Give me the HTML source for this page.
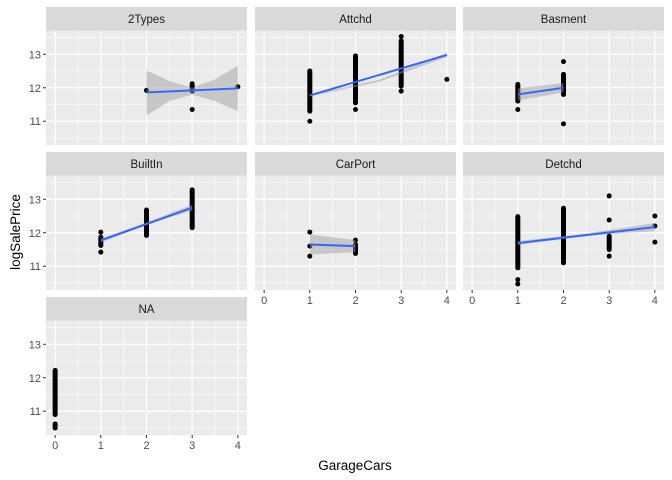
<!DOCTYPE html>
<html><head><meta charset="utf-8">
<style>
body{margin:0;background:#fff;}
svg{display:block;font-family:"Liberation Sans",Arial,sans-serif;}
</style></head>
<body>
<svg id="chart" width="672" height="480" xmlns="http://www.w3.org/2000/svg"></svg>
<script>
// ---- data ----
const facetNames = ["2Types","Attchd","Basment","BuiltIn","CarPort","Detchd","NA"];
const xTicks = [0,1,2,3,4];
const yTicks = [11,12,13];
// vertical runs of overlapping points: [facetIndex, x, yMin, yMax]
const pointRuns = [
 [0,3,11.9,12.12],
 [1,1,11.3,12.5],[1,2,11.55,12.95],[1,3,12.05,13.4],
 [2,1,11.6,12.1],[2,2,11.8,12.4],
 [3,1,11.62,11.87],[3,2,11.92,12.68],[3,3,12.15,13.28],
 [4,2,11.38,11.65],
 [5,1,10.95,12.48],[5,2,11.1,12.73],[5,3,11.5,11.9],
 [6,0,10.9,12.22],[6,0,10.5,10.62]
];
// single points: [facetIndex, x, y]
const points = [
 [0,2,11.92],[0,3,11.35],[0,4,12.03],
 [1,1,11.0],[1,2,11.35],[1,3,13.53],[1,3,11.9],[1,4,12.25],
 [2,1,11.35],[2,2,12.78],[2,2,10.92],
 [3,1,12.02],[3,1,11.42],
 [4,1,12.02],[4,1,11.6],[4,1,11.3],[4,2,11.78],
 [5,1,10.6],[5,1,10.47],[5,3,13.1],[5,3,12.38],[5,3,11.3],[5,4,12.5],[5,4,12.2],[5,4,11.72]
];
// fit lines: [facetIndex, x0, y0, x1, y1]
const fitLines = [
 [0,2,11.86,4,11.98],[1,1,11.77,4,12.98],[2,1,11.8,2,12.0],
 [3,1,11.77,3,12.75],[4,1,11.65,2,11.6],[5,1,11.69,4,12.17]
];
// ribbons
const ribbonX = [[2,2.5,3,3.5,4],[1,2.5,4],[1,2],[1,2,3],[1,2],[1,2.5,4]];
const ribbonLo = [[11.17,11.6,11.8,11.6,11.3],[11.74,12.17,12.92],[11.62,11.86],[11.71,12.25,12.66],[11.35,11.42],[11.63,11.92,12.05]];
const ribbonHi = [[12.52,12.2,12.0,12.25,12.66],[11.80,12.23,13.04],[11.98,12.14],[11.83,12.31,12.84],[11.95,11.78],[11.75,11.98,12.29]];

// ---- layout ----
const svg = document.getElementById('chart');
const NS = 'http://www.w3.org/2000/svg';
const colX = [46, 255, 463];
const panelW = 201;
const rowTop = [7, 152, 297];
const stripH = 23.5, panelH = 114.5;
const xMin=-0.2, xMax=4.2, yMin=10.29, yMax=13.71;
function mk(tag, attrs, parent){const e=document.createElementNS(NS,tag);for(const k in attrs)e.setAttribute(k,attrs[k]);(parent||svg).appendChild(e);return e;}
function px(i){return colX[i%3];}
function py(i){return rowTop[Math.floor(i/3)]+stripH;}
function sx(i,v){return px(i)+(v-xMin)/(xMax-xMin)*panelW;}
function sy(i,v){return py(i)+(yMax-v)/(yMax-yMin)*panelH;}
const bottomPanel=[false,false,false,false,true,true,true];

facetNames.forEach((name,i)=>{
  const g=mk('g',{});
  
  
  const x0=px(i), top=rowTop[Math.floor(i/3)];
  const st=mk('rect',{x:x0,y:top,width:panelW,height:stripH,fill:'#d9d9d9'},g);
  
  
  const t=mk('text',{x:x0+panelW/2,y:top+16,'text-anchor':'middle','font-size':'11.5',fill:'#1a1a1a'},g);
  t.textContent=name;
  
  
  const p0=py(i);
  const bg=mk('rect',{x:x0,y:p0,width:panelW,height:panelH,fill:'#ebebeb'},g);
  
  
  [10.5,11.5,12.5,13.5].forEach(v=>mk('line',{x1:x0,x2:x0+panelW,y1:sy(i,v),y2:sy(i,v),stroke:'#fff','stroke-width':0.6},g));
  [0.5,1.5,2.5,3.5].forEach(v=>mk('line',{x1:sx(i,v),x2:sx(i,v),y1:p0,y2:p0+panelH,stroke:'#fff','stroke-width':0.6},g));
  yTicks.forEach(v=>mk('line',{x1:x0,x2:x0+panelW,y1:sy(i,v),y2:sy(i,v),stroke:'#fff','stroke-width':1.2},g));
  xTicks.forEach(v=>mk('line',{x1:sx(i,v),x2:sx(i,v),y1:p0,y2:p0+panelH,stroke:'#fff','stroke-width':1.2},g));
  if(i%3===0){
    yTicks.forEach(v=>{
      mk('line',{x1:x0-3,x2:x0,y1:sy(i,v),y2:sy(i,v),stroke:'#333','stroke-width':1});
      const tl=mk('text',{x:x0-5,y:sy(i,v)+4,'text-anchor':'end','font-size':'11',fill:'#4d4d4d'});
      tl.textContent=v;
      
      
    });
  }
  if(bottomPanel[i]){
    xTicks.forEach(v=>{
      mk('line',{x1:sx(i,v),x2:sx(i,v),y1:p0+panelH,y2:p0+panelH+3,stroke:'#333','stroke-width':1});
      const tl=mk('text',{x:sx(i,v),y:p0+panelH+14,'text-anchor':'middle','font-size':'11',fill:'#4d4d4d'});
      tl.textContent=v;
      
      
    });
  }
});
pointRuns.forEach(r=>{
  const i=r[0];
  const l=mk('line',{x1:sx(i,r[1]),x2:sx(i,r[1]),y1:sy(i,r[2]),y2:sy(i,r[3]),stroke:'#000','stroke-width':5,'stroke-linecap':'round'});
  
  
});
points.forEach(p=>{
  const c=mk('circle',{cx:sx(p[0],p[1]),cy:sy(p[0],p[2]),r:2.5,fill:'#000'});
  
  
});
ribbonX.forEach((xs,k)=>{
  const i=fitLines[k][0];
  let d='';
  xs.forEach((x,j)=>{d+=(j?'L':'M')+sx(i,x)+','+sy(i,ribbonHi[k][j]);});
  for(let j=xs.length-1;j>=0;j--)d+='L'+sx(i,xs[j])+','+sy(i,ribbonLo[k][j]);
  const rb=mk('path',{d:d+'Z',fill:'#999','fill-opacity':0.45});
  
  
});
fitLines.forEach(f=>{
  const i=f[0];
  const l=mk('line',{x1:sx(i,f[1]),y1:sy(i,f[2]),x2:sx(i,f[3]),y2:sy(i,f[4]),stroke:'#3366ff','stroke-width':2});
  
  
});
const xt=mk('text',{x:355,y:470,'text-anchor':'middle','font-size':'13.5',fill:'#000'});
xt.textContent='GarageCars';


const yt=mk('text',{x:0,y:0,'text-anchor':'middle','font-size':'13.5',fill:'#000',transform:'translate(20,232) rotate(-90)'});
yt.textContent='logSalePrice';


</script>
</body></html>
